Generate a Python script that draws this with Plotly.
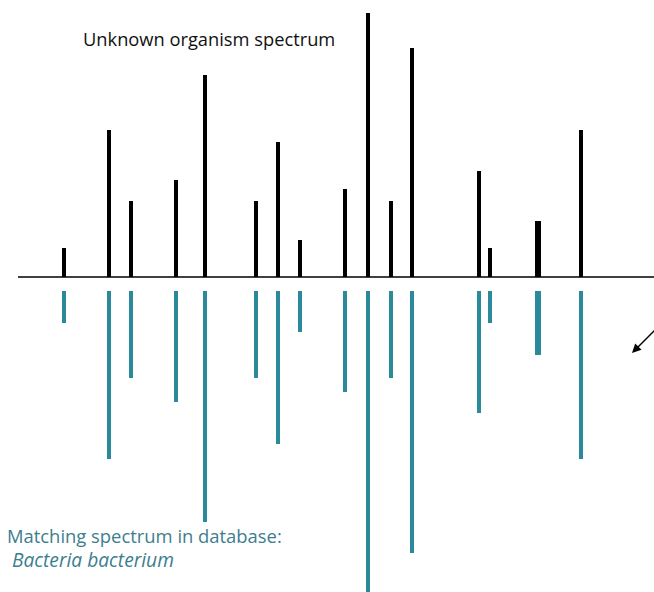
import plotly.graph_objects as go

# Peak positions (arbitrary m/z-like units along the axis)
peak_positions = [64, 109, 131, 176, 205, 256, 278, 300, 345, 368, 391, 412, 479, 490, 538, 581]
# Intensities of the unknown organism spectrum (upward)
unknown_intensity = [29, 147, 76, 97, 202, 76, 135, 37, 88, 264, 76, 229, 106, 29, 56, 147]
# Intensities of the matching database spectrum (downward)
database_intensity = [32, 168, 87, 111, 231, 87, 153, 41, 101, 310, 87, 262, 122, 32, 64, 168]

# styles (kept separate from data)
bar_widths = [3.6, 3.4, 3.4, 3.4, 3.7, 4.5, 3.6, 4.0, 3.8, 4.0, 3.6, 4.6, 3.8, 3.3, 6.0, 3.8]
GAP = 14
BLACK = "#000000"
TEAL = "#2b899c"
TEAL_TEXT = "#3c7e8e"
FONT = "'Open Sans', sans-serif"

fig = go.Figure()

fig.add_trace(go.Bar(
    x=peak_positions, y=unknown_intensity, width=bar_widths,
    marker=dict(color=BLACK, line=dict(width=0)), showlegend=False, hoverinfo="skip",
))
fig.add_trace(go.Bar(
    x=peak_positions, y=[-v for v in database_intensity], base=-GAP, width=bar_widths,
    marker=dict(color=TEAL, line=dict(width=0)), showlegend=False, hoverinfo="skip",
))

# baseline
fig.add_shape(type="line", xref="x", yref="y", x0=18, x1=654, y0=0, y1=0,
              line=dict(color=BLACK, width=1.6), layer="above")

fig.add_annotation(x=81, y=239, xref="x", yref="y", xanchor="left", yanchor="middle",
                   text="Unknown organism spectrum", showarrow=False,
                   font=dict(family=FONT, size=18.3, color="#111111"))
fig.add_annotation(x=6, y=-271, xref="x", yref="y", xanchor="left", yanchor="middle",
                   align="left", borderpad=0,
                   text=("Matching spectrum in database:<br>"
                         "<span style='font-size:19.2px'>\u00a0<i>Bacteria bacterium</i></span>"),
                   showarrow=False,
                   font=dict(family=FONT, size=18.4, color=TEAL_TEXT))

# arrow at the right edge
fig.add_shape(type="line", xref="x", yref="y", x0=634, y0=-74, x1=660, y1=-48,
              line=dict(color=BLACK, width=1.5))
fig.add_annotation(x=632, y=-76, xref="x", yref="y", ax=640, ay=-68,
                   axref="x", ayref="y", text="",
                   showarrow=True, arrowhead=2, arrowsize=1.2, arrowwidth=1.5,
                   arrowcolor=BLACK)

fig.update_layout(
    width=654, height=592,
    margin=dict(l=0, r=0, t=0, b=0),
    paper_bgcolor="white", plot_bgcolor="white",
    barmode="overlay", bargap=0,
    xaxis=dict(range=[0, 654], visible=False, fixedrange=True),
    yaxis=dict(range=[-315, 277], visible=False, fixedrange=True),
)

fig.write_html("out.html", config={"displayModeBar": False},
               post_script="document.body.style.margin='0';document.body.style.overflow='hidden';")
